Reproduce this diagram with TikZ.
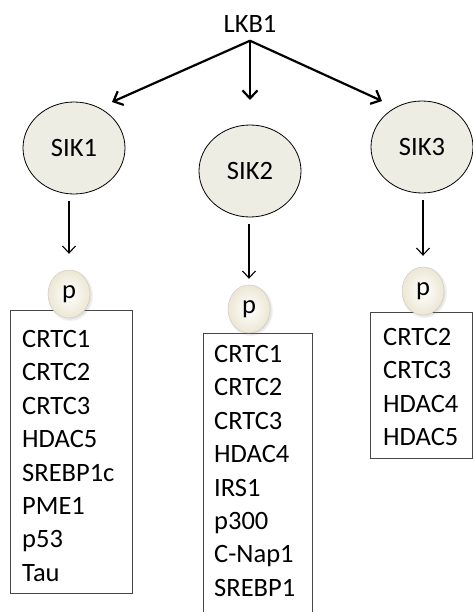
\documentclass[tikz,border=0pt]{standalone}
\usepackage{fontspec}
\setmainfont{Carlito}
\usetikzlibrary{arrows.meta,shapes.geometric,shadows,positioning}

\newcommand{\diagfont}{\fontsize{26.5}{33.4}\selectfont}

\begin{document}
\begin{tikzpicture}[
    x=1pt, y=-1pt,
    every node/.style={font=\diagfont},
    % Estilo para las quinasas SIK
    kinase/.style={
        ellipse, draw=black, line width=0.8pt, fill=sikfill,
        minimum width=102pt, minimum height=92pt, inner sep=0pt
    },
    % Estilo para la bolita de fosforilacion
    phospho/.style={
        ellipse, draw=ballrim, line width=0.4pt,
        inner color=white, outer color=ballfill,
        minimum width=42pt, minimum height=48pt, inner sep=0pt,
        circular drop shadow={opacity=0.25, shadow xshift=1pt, shadow yshift=-1pt}
    },
    % Cajas de sustratos
    targetbox/.style={rectangle, draw=boxgrey, line width=0.8pt, anchor=north west, inner sep=0pt},
    targetlist/.style={anchor=north west, align=left, inner sep=0pt},
    % Flechas
    bigarrow/.style={line width=2.2pt, -{Straight Barb[length=8pt,width=15pt]}},
    smallarrow/.style={line width=1.1pt, -{Straight Barb[length=7pt,width=13pt]}}
]
    % Colores
    \definecolor{sikfill}{RGB}{238, 237, 227}
    \definecolor{ballfill}{RGB}{236, 231, 212}
    \definecolor{ballrim}{RGB}{205, 200, 185}
    \definecolor{boxgrey}{RGB}{70, 70, 70}

    \useasboundingbox (0,0) rectangle (473,612);

    % Nodo superior
    \node[inner ysep=8pt] (lkb) at (250,24) {LKB1};

    % Las tres quinasas
    \node[kinase] (sik1) at (74,148) {SIK1};
    \node[kinase] (sik2) at (250,171) {SIK2};
    \node[kinase] (sik3) at (422,147) {SIK3};

    % Flechas desde LKB1
    \coordinate (tip1) at (112,102);
    \coordinate (tip2) at (250,100);
    \coordinate (tip3) at (382,101);
    \foreach \k in {1,2,3}{
        \draw[bigarrow] (lkb.south) -- (tip\k);
    }

    % Cajas con los sustratos
    \node[targetbox, minimum width=122pt, minimum height=283pt] (box1) at (10,310) {};
    \node[targetbox, minimum width=109pt, minimum height=300pt] (box2) at (203,333) {};
    \node[targetbox, minimum width=102pt, minimum height=146pt] (box3) at (370,312) {};

    \node[targetlist] (list1) at (22,330)
        {CRTC1\\CRTC2\\CRTC3\\HDAC5\\SREBP1c\\PME1\\p53\\Tau};
    \node[targetlist] (list2) at (214,345)
        {CRTC1\\CRTC2\\CRTC3\\HDAC4\\IRS1\\p300\\C-Nap1\\SREBP1};
    \node[targetlist] (list3) at (383,328)
        {CRTC2\\CRTC3\\HDAC4\\HDAC5};

    % Fosfatos sobre las cajas
    \node[phospho] (ball1) at (69,294) {p};
    \node[phospho] (ball2) at (249,309) {p};
    \node[phospho] (ball3) at (423,291) {p};

    % Flechas de fosforilacion
    \foreach \k/\gap in {1/16,2/6,3/11}{
        \draw[smallarrow, shorten <=7pt, shorten >=\gap pt] (sik\k.south -| ball\k.north) -- (ball\k.north);
    }
\end{tikzpicture}
\end{document}
